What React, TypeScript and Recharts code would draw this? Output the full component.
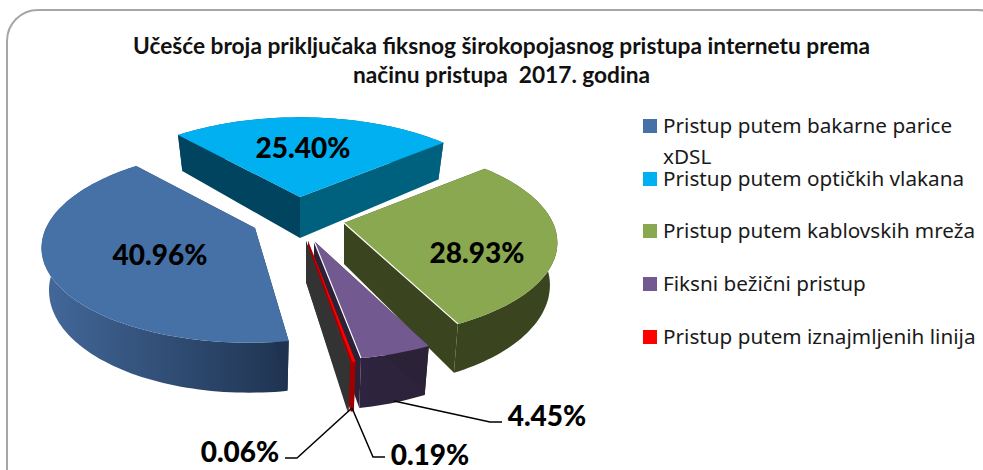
import { PieChart, Pie, Legend } from "recharts";

const names = [
  "Pristup putem bakarne parice xDSL",
  "Pristup putem optičkih vlakana",
  "Pristup putem kablovskih mreža",
  "Fiksni bežični pristup",
  "Pristup putem iznajmljenih linija",
  "Ostalo",
];
const shares = [40.96, 25.4, 28.93, 4.45, 0.19, 0.06];
const colors = ["#4571a7", "#00b0f0", "#8aa84f", "#725a91", "#ff0000", "#3a3a3a"];

// face shades of each slice: [start wall, end wall, outer from, outer to]
const walls = [
  ["#1f3350", "#2a4668", "#43699b", "#1f3350"],
  ["#00445f", "#00617f", "#00617f", "#00617f"],
  ["#3a4520", "#3a4520", "#3a4520", "#3a4520"],
  ["#2c2238", "#2c2238", "#2f2440", "#2c2238"],
  ["#a00000", "#a00000", "#a00000", "#a00000"],
  ["#333333", "#333333", "#333333", "#333333"],
];
// exploded apex of each slice, relative to the pie centre
const explode = [
  [-47, 6],
  [-2, -25],
  [42, 1],
  [12, 19],
  [6, 19],
  [4, 19],
];
// slices pulled towards the viewer look a little longer
const reach = [1, 1, 1, 1.04, 1.07, 1.07];
// where each value label sits: text x, y, leader points
const labelSpots: { x: number; y: number; line?: number[][] }[] = [
  { x: 160, y: 254 },
  { x: 303, y: 147 },
  { x: 477, y: 252 },
  { x: 547, y: 415, line: [[394, 401], [490, 422], [502, 422]] },
  { x: 430, y: 454, line: [[352, 408], [373, 457], [385, 457]] },
  { x: 240, y: 451, line: [[352, 408], [297, 458], [285, 458]] },
];
const legendTops = [119, 172, 224, 277, 330];

const pieData = names.map((name, i) => ({ name, value: shares[i], fill: colors[i] }));

const FLAT = 0.45;
const PERSP = 0.18;
const DEPTH = 41;
const SHRINK = 0.965;
const SHEAR = 0.6;

function toPoint(theta: number, frac: number, rx: number, lower: boolean, shift: number) {
  const t = (theta * Math.PI) / 180;
  const u = Math.sin(t) * frac;
  const v = -Math.cos(t) * frac;
  const d = 1 - PERSP * v;
  const x = (rx * u) / d + shift * SHEAR * (1 / d - 1);
  const y = (rx * FLAT * v) / d;
  return lower ? [x * SHRINK, y + DEPTH / d] : [x, y];
}

function Slice(props: any) {
  const { cx, cy, outerRadius, startAngle, endAngle, fill, name } = props;
  const i = names.indexOf(name);
  const ox = cx + explode[i][0];
  const oy = cy + explode[i][1];
  const t0 = 90 - startAngle;
  const t1 = 90 - endAngle;
  const at = (theta: number, frac: number, lower: boolean) => {
    const p = toPoint(theta, frac, outerRadius * reach[i], lower, explode[i][0]);
    return `${(ox + p[0]).toFixed(1)},${(oy + p[1]).toFixed(1)}`;
  };
  const steps = Math.max(2, Math.ceil((t1 - t0) / 1.5));
  const thetas = Array.from({ length: steps + 1 }, (_, k) => t0 + ((t1 - t0) * k) / steps);
  const top = thetas.map((t) => at(t, 1, false));
  const bottom = thetas.map((t) => at(t, 1, true));
  const gradId = `wall-${i}`;
  return (
    <g>
      <defs>
        <linearGradient id={gradId} x1="0" y1="0" x2="1" y2="0">
          <stop offset="0" stopColor={walls[i][2]} />
          <stop offset="1" stopColor={walls[i][3]} />
        </linearGradient>
      </defs>
      <polygon points={[...top, ...[...bottom].reverse()].join(" ")} fill={`url(#${gradId})`} />
      <polygon
        points={[at(t0, 0, false), top[0], bottom[0], at(t0, 0, true)].join(" ")}
        fill={walls[i][0]}
      />
      <polygon
        points={[at(t1, 0, false), top[steps], bottom[steps], at(t1, 0, true)].join(" ")}
        fill={walls[i][1]}
      />
      <polygon points={[at(t0, 0, false), ...top].join(" ")} fill={fill} />
      {(i === 2 || i === 3) && (
        <polyline points={[at(t1, 0, false), top[steps]].join(" ")} stroke="#fff" strokeWidth={1.2} />
      )}
    </g>
  );
}

function ValueLabel(props: any) {
  const spot = labelSpots[props.index];
  return (
    <g>
      {spot.line && (
        <polyline
          points={spot.line.map((p) => p.join(",")).join(" ")}
          fill="none"
          stroke="#000"
          strokeWidth={1.5}
        />
      )}
      <text
        x={spot.x}
        y={spot.y}
        textAnchor="middle"
        dominantBaseline="central"
        fontFamily="Lato"
        fontWeight={900}
        fontSize={28}
        fill="#000"
      >
        {props.value.toFixed(2)}%
      </text>
    </g>
  );
}

function LegendRows({ payload }: any) {
  return (
    <div style={{ position: "relative", width: 983, height: 470 }}>
      {(payload || []).slice(0, 5).map((item: any, i: number) => (
        <div key={item.value}>
          <div
            style={{
              position: "absolute",
              left: 643,
              top: legendTops[i],
              width: 14,
              height: 14,
              background: item.color,
            }}
          />
          <div
            style={{
              position: "absolute",
              left: 663,
              top: legendTops[i] - 9,
              width: 319,
              fontFamily: "Noto Sans",
              fontSize: 20.7,
              lineHeight: "31px",
              color: "#1a1a1a",
            }}
          >
            {item.value}
          </div>
        </div>
      ))}
    </div>
  );
}

export default function App() {
  return (
    <div
      style={{
        position: "absolute",
        left: 0,
        top: 0,
        width: 983,
        height: 470,
        overflow: "hidden",
        background: "#fff",
      }}
    >
      <div
        style={{
          position: "absolute",
          left: 6,
          top: 9,
          width: 1000,
          height: 520,
          border: "2px solid #a6a6a6",
          borderRadius: 32,
        }}
      />
      <div
        style={{
          position: "absolute",
          left: 0,
          top: 31,
          width: 1003,
          textAlign: "center",
          fontFamily: "Lato",
          fontWeight: 700,
          fontSize: 22.7,
          lineHeight: "29px",
          color: "#111",
        }}
      >
        Učešće broja priključaka fiksnog širokopojasnog pristupa internetu prema
        <br />
        načinu pristupa&nbsp; 2017. godina
      </div>
      <div style={{ position: "absolute", left: 0, top: 0 }}>
        <PieChart width={983} height={470} margin={{ top: 0, right: 0, bottom: 0, left: 0 }}>
          <Pie
            data={pieData}
            dataKey="value"
            nameKey="name"
            cx={302}
            cy={222}
            outerRadius={209}
            startAngle={-81}
            endAngle={-441}
            stroke="none"
            isAnimationActive={false}
            shape={Slice}
            label={ValueLabel}
            labelLine={false}
          />
          <Legend
            content={LegendRows}
            itemSorter={null}
            wrapperStyle={{ left: 0, top: 0, width: 983, height: 470 }}
          />
        </PieChart>
      </div>
    </div>
  );
}
